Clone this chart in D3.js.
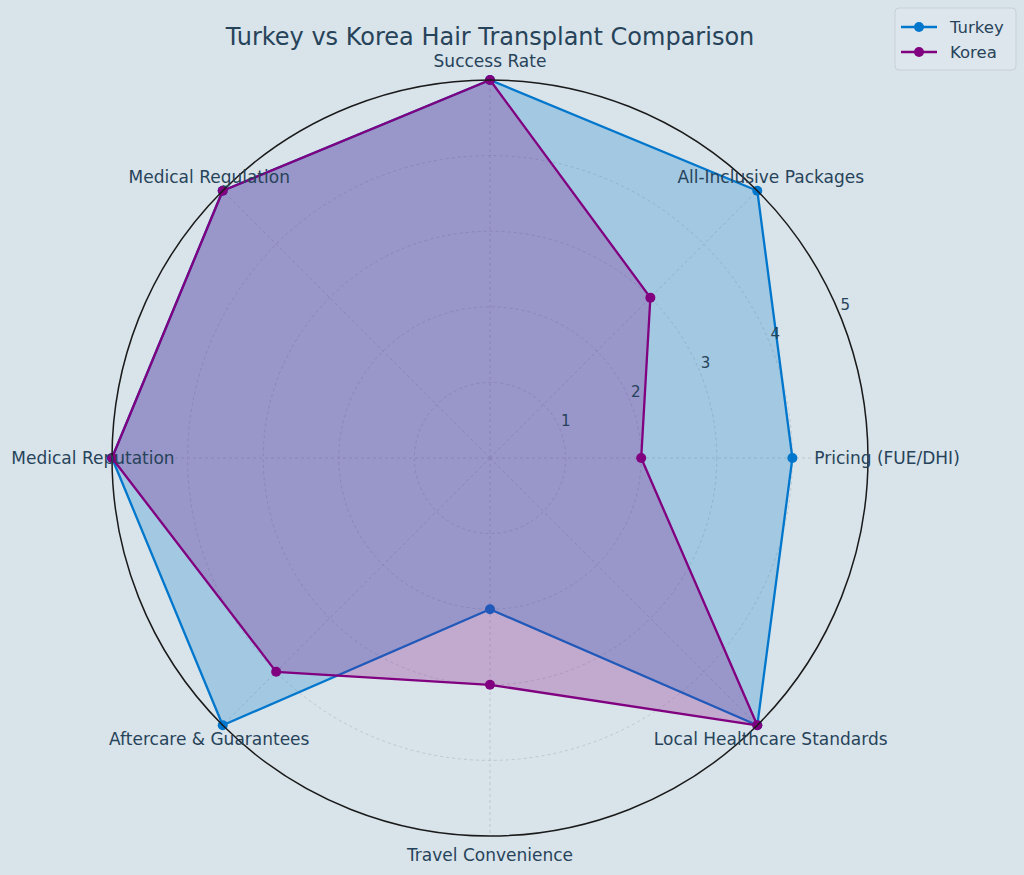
<!DOCTYPE html>
<html lang="en">
<head>
<meta charset="UTF-8">
<script src="https://d3js.org/d3.v7.min.js"></script>
<style>
  html, body { margin: 0; padding: 0; background: #d8e3ea; }
  svg { display: block; font-family: "DejaVu Sans", sans-serif; }
</style>
</head>
<body>
<svg width="1024" height="875"></svg>
<script>
// data
const categories = ["Pricing (FUE/DHI)", "All-Inclusive Packages", "Success Rate", "Medical Regulation",
  "Medical Reputation", "Aftercare & Guarantees", "Travel Convenience", "Local Healthcare Standards"];
const turkey = [4, 5, 5, 5, 5, 5, 2, 5];
const korea = [2, 3, 5, 5, 5, 4, 3, 5];
const rTicks = [1, 2, 3, 4, 5];
const seriesNames = ["Turkey", "Korea"];
const seriesColors = ["#0077cc", "#800080"];

const svg = d3.select("svg");
const cx = 490, cy = 458, R = 378;
const textColor = "#27435a";

const r = d3.scaleLinear().domain([0, 5]).range([0, R]);
const angle = d3.scaleLinear().domain([0, categories.length]).range([0, 2 * Math.PI]);
// 0 at right, going counter-clockwise
const px = (i, v) => cx + r(v) * Math.cos(angle(i));
const py = (i, v) => cy - r(v) * Math.sin(angle(i));

const g = svg.append("g");

// grid circles
g.selectAll("circle.grid").data(rTicks.slice(0, -1)).enter().append("circle")
  .attr("cx", cx).attr("cy", cy).attr("r", d => r(d))
  .attr("fill", "none").attr("stroke", "#b9c0c6").attr("stroke-width", 0.8)
  .attr("stroke-dasharray", "3,3");

// spokes
g.selectAll("line.spoke").data(categories).enter().append("line")
  .attr("x1", cx).attr("y1", cy)
  .attr("x2", (d, i) => px(i, 5)).attr("y2", (d, i) => py(i, 5))
  .attr("stroke", "#b9c0c6").attr("stroke-width", 0.8).attr("stroke-dasharray", "3,3");

// series
const allSeries = [turkey, korea];
allSeries.forEach((vals, s) => {
  const pts = vals.map((v, i) => [px(i, v), py(i, v)]);
  g.append("path")
    .attr("d", d3.line()(pts) + "Z")
    .attr("fill", seriesColors[s]).attr("fill-opacity", 0.25)
    .attr("stroke", seriesColors[s]).attr("stroke-width", 2.3)
    .attr("stroke-linejoin", "round");
  g.selectAll(null).data(pts).enter().append("circle")
    .attr("cx", d => d[0]).attr("cy", d => d[1]).attr("r", 5)
    .attr("fill", seriesColors[s]);
});

// outer spine
g.append("circle").attr("cx", cx).attr("cy", cy).attr("r", r(5))
  .attr("fill", "none").attr("stroke", "#1a1a1a").attr("stroke-width", 1.5);

// radial tick labels along 22.5 deg
const rlAng = Math.PI / 8;
g.selectAll("text.rl").data(rTicks).enter().append("text")
  .attr("x", d => cx + r(d) * Math.cos(rlAng) + 6)
  .attr("y", d => cy - r(d) * Math.sin(rlAng) - 8)
  .attr("text-anchor", "middle").attr("dominant-baseline", "central")
  .attr("font-size", 15).attr("fill", textColor)
  .text(d => d);

// category labels
g.selectAll("text.cat").data(categories).enter().append("text")
  .attr("x", (d, i) => cx + (R + 19) * Math.cos(angle(i)))
  .attr("y", (d, i) => cy - (R + 19) * Math.sin(angle(i)))
  .attr("text-anchor", "middle").attr("dominant-baseline", "central")
  .attr("font-size", 17).attr("fill", textColor)
  .text(d => d);

// title
svg.append("text").attr("x", 490).attr("y", 37)
  .attr("text-anchor", "middle").attr("dominant-baseline", "central")
  .attr("font-size", 24).attr("fill", textColor)
  .text("Turkey vs Korea Hair Transplant Comparison");

// legend
const lg = svg.append("g").attr("transform", "translate(895,8)");
lg.append("rect").attr("width", 121).attr("height", 62).attr("rx", 4)
  .attr("fill", "#dde6ec").attr("stroke", "#c8d0d6").attr("stroke-width", 1);
seriesNames.forEach((name, s) => {
  const y = 19 + s * 25;
  lg.append("line").attr("x1", 6).attr("x2", 42).attr("y1", y).attr("y2", y)
    .attr("stroke", seriesColors[s]).attr("stroke-width", 2.3);
  lg.append("circle").attr("cx", 24).attr("cy", y).attr("r", 5).attr("fill", seriesColors[s]);
  lg.append("text").attr("x", 55).attr("y", y).attr("dominant-baseline", "central")
    .attr("font-size", 16.5).attr("fill", textColor).text(name);
});
</script>
</body>
</html>
